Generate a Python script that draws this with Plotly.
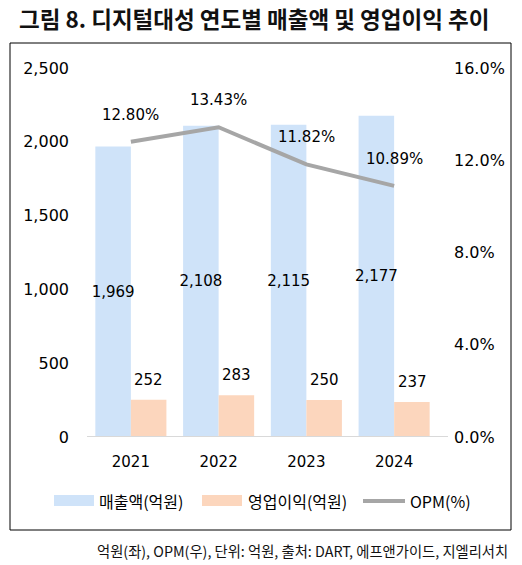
import plotly.graph_objects as go

# data
years = ["2021", "2022", "2023", "2024"]
revenue = [1969, 2108, 2115, 2177]        # 매출액(억원)
op_profit = [252, 283, 250, 237]          # 영업이익(억원)
opm = [12.80, 13.43, 11.82, 10.89]        # OPM(%)
left_ticks = [0, 500, 1000, 1500, 2000, 2500]
right_ticks = [0, 4, 8, 12, 16]

W, H = 522, 565
L, R, T, B = 87, 84, 68, 128

NUM_FONT = "DejaVu Sans, Noto Sans CJK KR"
KR_FONT = "Noto Sans CJK KR, DejaVu Sans"

BLUE = "#cfe3f9"
ORANGE = "#fcd6bd"
GRAY = "#a6a6a6"


def px_x(px):
    return (px - L) / (W - L - R)


def px_y(py):
    return (H - B - py) / (H - T - B)


fig = go.Figure()

fig.add_trace(go.Bar(
    x=years, y=revenue, name="매출액(억원)",
    marker=dict(color=BLUE, line=dict(width=0)),
    texttemplate="%{y:,}", textposition="inside", insidetextanchor="middle",
    textangle=0, constraintext="none",
    textfont=dict(family=NUM_FONT, size=15, color="#000"),
))
fig.add_trace(go.Bar(
    x=years, y=op_profit, name="영업이익(억원)",
    marker=dict(color=ORANGE, line=dict(width=0)),
))
fig.add_trace(go.Scatter(
    x=years, y=opm, name="OPM(%)", yaxis="y2", mode="lines",
    line=dict(color=GRAY, width=4),
))

annotations = []
# OPM labels above the line (x given as category index)
for i, v in enumerate(opm):
    annotations.append(dict(
        x=i, y=v, xref="x", yref="y2", text=f"{v:.2f}%", showarrow=False,
        yshift=27, font=dict(family=NUM_FONT, size=15, color="#000"),
    ))
# operating profit labels above the orange bars
for i, v in enumerate(op_profit):
    annotations.append(dict(
        x=i, y=v, xref="x", yref="y", text=f"{v:,}", showarrow=False,
        xshift=18, yshift=20, font=dict(family=NUM_FONT, size=15, color="#000"),
    ))

# title and footer
annotations.append(dict(
    x=px_x(17), y=px_y(18), xref="paper", yref="paper", xanchor="left", yanchor="middle",
    text="<b>그림 8. 디지털대성 연도별 매출액 및 영업이익 추이</b>", showarrow=False,
    font=dict(family=KR_FONT, size=22.5, color="#111"),
))
annotations.append(dict(
    x=px_x(510), y=px_y(550), xref="paper", yref="paper", xanchor="right", yanchor="middle",
    text="억원(좌), OPM(우), 단위: 억원, 출처: DART, 에프앤가이드, 지엘리서치", showarrow=False,
    font=dict(family=KR_FONT, size=14.3, color="#111"),
))

# custom legend
legend_items = [
    ("매출액(억원)", 54, 97, "bar", BLUE),
    ("영업이익(억원)", 202, 246, "bar", ORANGE),
    ("OPM(%)", 363, 408, "line", GRAY),
]
shapes = []
for label, sx, tx, kind, col in legend_items:
    if kind == "bar":
        shapes.append(dict(type="rect", xref="paper", yref="paper",
                           x0=px_x(sx), x1=px_x(sx + 40), y0=px_y(506), y1=px_y(495),
                           fillcolor=col, line=dict(width=0)))
    else:
        shapes.append(dict(type="line", xref="paper", yref="paper",
                           x0=px_x(sx), x1=px_x(sx + 42), y0=px_y(501), y1=px_y(501),
                           line=dict(color=col, width=4)))
    annotations.append(dict(
        x=px_x(tx), y=px_y(501), xref="paper", yref="paper", xanchor="left", yanchor="middle",
        text=label, showarrow=False, font=dict(family=KR_FONT, size=16, color="#000"),
    ))

# frame around the chart
shapes.append(dict(type="rect", xref="paper", yref="paper",
                   x0=px_x(10), x1=px_x(511), y0=px_y(530), y1=px_y(43),
                   line=dict(color="#000", width=1), fillcolor="rgba(0,0,0,0)", layer="below"))
# base line
shapes.append(dict(type="line", xref="paper", yref="y",
                   x0=px_x(87), x1=px_x(448), y0=0, y1=0,
                   line=dict(color="#d9d9d9", width=2)))

fig.update_layout(
    width=W, height=H,
    margin=dict(l=L, r=R, t=T, b=B),
    paper_bgcolor="white", plot_bgcolor="white",
    barmode="group", bargap=0.19, bargroupgap=0,
    showlegend=False,
    font=dict(family=NUM_FONT, size=15, color="#000"),
    xaxis=dict(type="category", range=[-0.5, len(years) - 0.5], showgrid=False,
               showline=False, ticks="", tickfont=dict(family=NUM_FONT, size=15),
               ticklabelstandoff=14),
    yaxis=dict(range=[0, 2500], tickvals=left_ticks, tickformat=",", showgrid=False,
               zeroline=False, showline=False, ticks="", ticklabelstandoff=17,
               tickfont=dict(family=NUM_FONT, size=16)),
    yaxis2=dict(range=[0, 16], tickvals=right_ticks,
                ticktext=[f"{v:.1f}%" for v in right_ticks],
                overlaying="y", side="right", showgrid=False, zeroline=False,
                showline=False, ticks="", ticklabelstandoff=15,
                tickfont=dict(family=NUM_FONT, size=16)),
    annotations=annotations,
    shapes=shapes,
)

fig.write_html("out.html", config={"displayModeBar": False},
               post_script="document.body.style.margin='0';")
